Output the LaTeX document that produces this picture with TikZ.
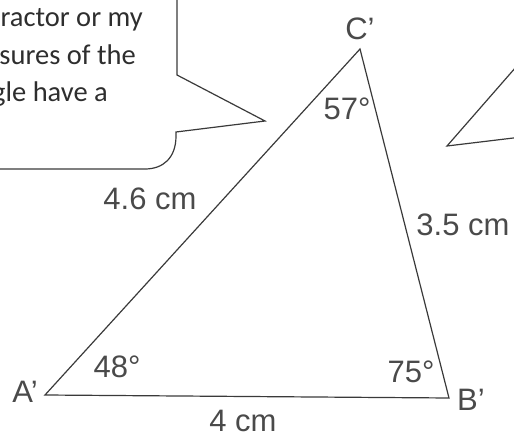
\documentclass[tikz,border=0pt]{standalone}
\usepackage{fontspec}
\setmainfont{Liberation Sans}
\newfontfamily\bubblefont{Carlito}
\usepackage{xcolor}
\usepackage{tikz}
\definecolor{ink}{HTML}{3A3A3A}
\definecolor{labelgray}{HTML}{4A4A4A}
\definecolor{bubbleink}{HTML}{2E2E2E}
\tikzset{
  side/.style={
    draw=ink,
    line width=1.2pt,
    line join=miter
  },
  vlabel/.style={
    font=\fontsize{31}{31}\selectfont,
    text=labelgray,
    inner sep=0pt
  },
  bubble text/.style={
    font=\bubblefont\fontsize{28.5}{28.5}\selectfont,
    text=bubbleink,
    inner sep=0pt,
    anchor=base east
  }
}

\begin{document}
\begin{tikzpicture}[x=1pt, y=-1pt]
  \useasboundingbox (0,0) rectangle (514,435);
  \clip (0,0) rectangle (514,435);

  % Speech bubble
  \coordinate (bubbletop) at (177,-10);
  \coordinate (bubbleleft) at (-10,169);
  \coordinate (tip) at (265,121);
  \draw[side] (bubbletop) -- (177,75) -- (tip) -- (176,132) -- (176,136)
    .. controls (176,158) and (163,169) .. (145,169) -- (bubbleleft);
  \node[bubble text] (line1) at (143,27) {ractor or my};
  \node[bubble text] (line2) at (136,65) {sures of the};
  \node[bubble text] (line3) at (108,102) {gle have a};

  % Vertices
  \coordinate (A) at (45,395);
  \coordinate (B) at (449,398);
  \coordinate (C) at (360,49);

  % Triangle
  \draw[side] (A) -- (B) -- (C) -- cycle;

  % Next triangle (cut off at the edge)
  \coordinate (D) at (447,146);
  \coordinate (Dup) at (530,51);
  \coordinate (Ddown) at (530,136);
  \draw[side] (Dup) -- (D) -- (Ddown);

  % Vertex labels
  \node[vlabel] (Clbl) at (360,29) {C'};
  \node[vlabel] (Albl) at (25,392) {A'};
  \node[vlabel] (Blbl) at (471,400) {B'};

  % Angles
  \node[vlabel] (angC) at (347,109) {57°};
  \node[vlabel] (angA) at (117,367) {48°};
  \node[vlabel] (angB) at (411,372) {75°};

  % Sides
  \node[vlabel] (AB) at (243,421) {4 cm};
  \node[vlabel] (AC) at (150,199) {4.6 cm};
  \node[vlabel] (BC) at (463,225) {3.5 cm};
\end{tikzpicture}
\end{document}
